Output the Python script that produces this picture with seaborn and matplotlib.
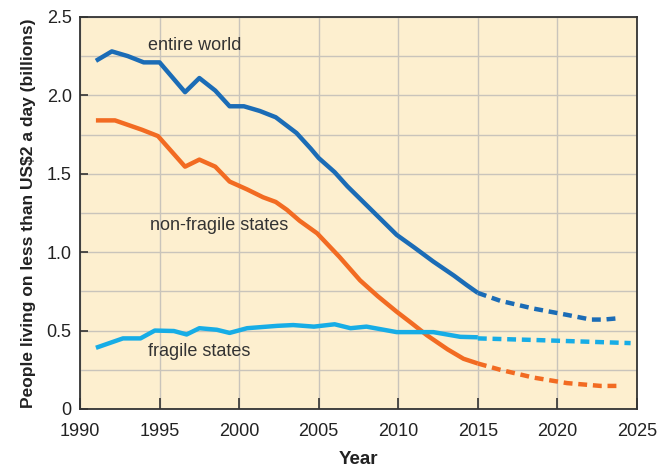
import numpy as np
import pandas as pd
import matplotlib
matplotlib.use("Agg")
import matplotlib.pyplot as plt
import seaborn as sns

# === DATA ===
world_years = [1991, 1992, 1993, 1994, 1995, 1996.6, 1997.5, 1998.5, 1999.4, 2000.3,
               2001.3, 2002.3, 2003.6, 2004.5, 2005, 2006, 2006.8, 2007.7, 2008.7,
               2009.9, 2011, 2012.2, 2013.5, 2014.3, 2015]
world_vals = [2.22, 2.28, 2.25, 2.21, 2.21, 2.02, 2.11, 2.03, 1.93, 1.93,
              1.90, 1.86, 1.76, 1.66, 1.60, 1.51, 1.42, 1.33, 1.23,
              1.11, 1.03, 0.94, 0.85, 0.79, 0.74]
world_proj_years = [2015, 2016.4, 2018.5, 2020.6, 2022.1, 2022.9, 2024]
world_proj_vals = [0.74, 0.69, 0.64, 0.60, 0.57, 0.57, 0.58]

nonfrag_years = [1991, 1992.2, 1993.9, 1994.9, 1996.6, 1997.5, 1998.5, 1999.4, 2000.5,
                 2001.5, 2002.3, 2003, 2003.8, 2004.9, 2006.3, 2007.6, 2008.7, 2009.9,
                 2010.8, 2011.8, 2013.1, 2014.1, 2015]
nonfrag_vals = [1.84, 1.84, 1.78, 1.74, 1.545, 1.59, 1.545, 1.45, 1.40,
                1.35, 1.32, 1.27, 1.20, 1.12, 0.97, 0.82, 0.72, 0.62,
                0.55, 0.47, 0.38, 0.32, 0.29]
nonfrag_proj_years = [2015, 2016.4, 2018.5, 2020.6, 2022.7, 2024]
nonfrag_proj_vals = [0.29, 0.25, 0.20, 0.165, 0.147, 0.147]

frag_years = [1991, 1992.7, 1993.8, 1994.7, 1995.9, 1996.7, 1997.5, 1998.6, 1999.4,
              2000.5, 2002.4, 2003.4, 2004.7, 2006, 2007, 2008, 2009.9, 2012.2,
              2013.9, 2015]
frag_vals = [0.39, 0.45, 0.45, 0.50, 0.497, 0.475, 0.515, 0.505, 0.485,
             0.515, 0.53, 0.535, 0.525, 0.54, 0.515, 0.525, 0.49, 0.49,
             0.46, 0.457]
frag_proj_years = [2015, 2018.5, 2024.6]
frag_proj_vals = [0.45, 0.44, 0.42]

x_ticks = [1990, 1995, 2000, 2005, 2010, 2015, 2020, 2025]
y_ticks = [0, 0.5, 1.0, 1.5, 2.0, 2.5]
y_ticklabels = ["0", "0.5", "1.0", "1.5", "2.0", "2.5"]

# === STYLE ===
C_WORLD = "#1b6cb6"
C_NONFRAG = "#f26b22"
C_FRAG = "#17ade6"
BG = "#fdefcf"
GRID = "#c9c4bb"
DARK = "#333333"
DASH = (0, (2.0, 1.3))
LW = 3.2

sns.set_theme(style="white")
FONT = ["Liberation Sans Narrow", "Liberation Sans", "DejaVu Sans"]
plt.rcParams["font.family"] = FONT

fig = plt.figure(figsize=(6.59, 4.69), dpi=100)
ax = fig.add_axes([0.1214, 0.128, 0.8452, 0.836])
ax.set_facecolor(BG)

segments = [
    (world_years, world_vals, C_WORLD, "-"),
    (world_proj_years, world_proj_vals, C_WORLD, DASH),
    (nonfrag_years, nonfrag_vals, C_NONFRAG, "-"),
    (nonfrag_proj_years, nonfrag_proj_vals, C_NONFRAG, DASH),
    (frag_years, frag_vals, C_FRAG, "-"),
    (frag_proj_years, frag_proj_vals, C_FRAG, DASH),
]
for xs, ys, col, ls in segments:
    df = pd.DataFrame({"year": xs, "value": ys})
    sns.lineplot(data=df, x="year", y="value", color=col, linewidth=LW,
                 linestyle=ls, sort=False, estimator=None, ax=ax,
                 solid_capstyle="butt", dash_capstyle="butt", zorder=3)

ax.set_xlim(1990, 2025)
ax.set_ylim(0, 2.5)
ax.set_xticks(x_ticks)
ax.set_yticks(y_ticks)
ax.set_yticklabels(y_ticklabels)
ax.set_yticks(np.arange(0.25, 2.5, 0.5), minor=True)

ax.grid(True, which="major", color=GRID, linewidth=1.0, zorder=0)
ax.grid(True, which="minor", axis="y", color=GRID, linewidth=1.0, zorder=0)
ax.set_axisbelow(True)

for s in ax.spines.values():
    s.set_visible(True)
    s.set_color(DARK)
    s.set_linewidth(1.3)

ax.tick_params(axis="x", which="major", direction="in", length=8, width=1.2,
               color=DARK, labelsize=13, labelcolor="#222222", pad=10)
ax.tick_params(axis="y", which="major", direction="in", length=6, width=1.2,
               color=DARK, labelsize=13, labelcolor="#222222", pad=6, left=True)
ax.tick_params(axis="y", which="minor", length=0)
ax.tick_params(axis="x", bottom=True)

ax.set_xlabel("Year", fontsize=13.5, fontweight="bold", color="#222222", labelpad=8)
ax.set_ylabel("People living on less than US$2 a day (billions)", fontsize=12.5,
              fontweight="bold", color="#222222", labelpad=8)

ax.text(1994.3, 2.315, "entire world", fontsize=13, color="#333333", va="center", ha="left")
ax.text(1994.4, 1.167, "non-fragile states", fontsize=13, color="#333333", va="center", ha="left")
ax.text(1994.3, 0.364, "fragile states", fontsize=13, color="#333333", va="center", ha="left")

fig.savefig("out.png", dpi=100, facecolor="white")
